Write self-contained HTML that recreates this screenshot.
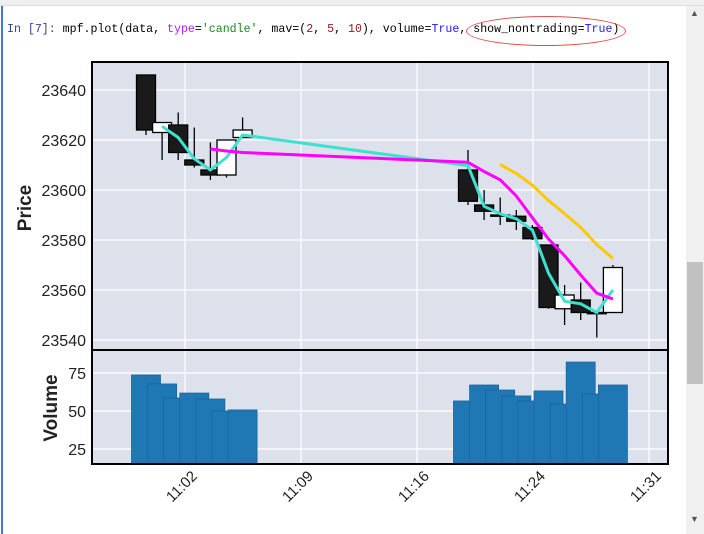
<!DOCTYPE html>
<html><head><meta charset="utf-8"><style>
body{margin:0;width:704px;height:534px;background:#fff;overflow:hidden;font-family:"Liberation Sans",sans-serif;position:relative}
</style></head><body>
<div style="position:absolute;left:0;top:0;width:704px;height:5px;background:#f0f0f0;border-bottom:1px solid #ddd"></div>
<div style="position:absolute;left:1px;top:6px;width:2px;height:528px;background:#3a7bd5"></div>
<div style="position:absolute;left:7px;top:23px;font-family:'Liberation Mono',monospace;font-size:11.6px;white-space:pre;color:#000"><span style="color:#303f9f">In [7]:</span> mpf.plot(data, <span style="color:#aa22ff">type</span>=<span style="color:#1a8a1a">'candle'</span>, mav=(<span style="color:#8b1a1a">2</span>, <span style="color:#8b1a1a">5</span>, <span style="color:#8b1a1a">10</span>), volume=<span style="color:#1a1aff">True</span>, show_nontrading=<span style="color:#1a1aff">True</span>)</div>
<div style="position:absolute;left:466px;top:16px;width:158px;height:28px;border:1px solid #e05050;border-radius:50%"></div>
<div style="position:absolute;left:686px;top:6px;width:18px;height:528px;background:#f0f0f0">
<div style="position:absolute;top:2px;left:4px;font-size:9px;color:#555">▲</div>
<div style="position:absolute;top:256px;left:1px;width:16px;height:122px;background:#c1c1c1"></div>
<div style="position:absolute;top:508px;left:4px;font-size:9px;color:#555">▼</div>
</div>
<svg id="c" width="704" height="534" style="position:absolute;left:0;top:0"></svg>
<script>
const mins=[0,1,2,3,4,5,6,20,21,22,23,24,25,26,27,28,29];
const opens=[23646,23623,23626,23612,23608,23606,23621,23608,23594,23590,23589.5,23585,23578,23552.5,23556,23550.5,23551];
const highs=[23646,23627,23631,23625,23619,23620,23629,23616,23600,23597,23592,23586,23578,23562,23563,23551,23570];
const lows=[23622,23612,23612,23609,23604,23605,23621,23594,23588,23586,23584,23580,23552.5,23546,23548,23541,23551];
const closes=[23624,23627,23615,23610,23606,23620,23624,23595.5,23591.5,23589.5,23587.5,23580.5,23553,23558,23551,23551,23569];
const volumes=[73.7,67.8,58.6,61.8,57.9,50,50.7,56.6,67.1,63.8,59.9,56.6,63.2,54.6,82.2,61.2,67.1];
const priceTicks=[23540,23560,23580,23600,23620,23640];
const volTicks=[25,50,75];
const xTickLabels=["11:02","11:09","11:16","11:24","11:31"];
const xTickPos=[185,301,417,533,649];
const mavs=[2,5,10];
const mavColors=["#40e0d0","#ff00ff","#ffc800"];

const NS="http://www.w3.org/2000/svg";
const svg=document.getElementById('c');
function mk(t,a,p){const e=document.createElementNS(NS,t);for(const k in a)e.setAttribute(k,a[k]);(p||svg).appendChild(e);return e;}
const L=92,R=668,T=62,MID=350,B=464;
const py=p=>90+(23640-p)*2.5;
const vy=v=>411-(v-50)*1.52;
const cx=m=>146+m*16.1;
const vx=m=>131.5+m*16.1;

let e=mk('rect',{x:L,y:T,width:R-L,height:B-T,fill:'#dce1ec'});

xTickPos.forEach((x,i)=>{let g=mk('line',{x1:x,x2:x,y1:T,y2:B,stroke:'#fff','stroke-width':1.2});

let t=mk('text',{x:0,y:0,'font-size':15,fill:'#222','text-anchor':'end',transform:`translate(${x+13},${B+13}) rotate(-45)`});t.textContent=xTickLabels[i];
});
priceTicks.forEach(p=>{let g=mk('line',{x1:L,x2:R,y1:py(p),y2:py(p),stroke:'#fff','stroke-width':1.2});

let t=mk('text',{x:86,y:py(p)+6,'font-size':16,fill:'#222','text-anchor':'end'});t.textContent=p;
});
volTicks.forEach(v=>{let g=mk('line',{x1:L,x2:R,y1:vy(v),y2:vy(v),stroke:'#fff','stroke-width':1.2});

let t=mk('text',{x:86,y:vy(v)+6,'font-size':16,fill:'#222','text-anchor':'end'});t.textContent=v;
});
mins.forEach((m,i)=>{let r=mk('rect',{x:vx(m),y:vy(volumes[i]),width:29,height:B-vy(volumes[i]),fill:'#1f77b4',stroke:'#1a64a0','stroke-width':0.8});
});
mins.forEach((m,i)=>{const x=cx(m),o=opens[i],c=closes[i];
let w=mk('line',{x1:x,x2:x,y1:py(highs[i]),y2:py(lows[i]),stroke:'#000','stroke-width':1.3});

const top=py(Math.max(o,c)),h=Math.max(1,Math.abs(py(o)-py(c)));
let b=mk('rect',{x:x-9.5,y:top,width:19,height:h,fill:c>=o?'#fdfdff':'#1a1a1a',stroke:'#000','stroke-width':1.3});
});
mavs.forEach((n,k)=>{let pts=[];for(let i=n-1;i<closes.length;i++){let s=0;for(let j=i-n+1;j<=i;j++)s+=closes[j];pts.push(cx(mins[i]).toFixed(1)+','+py(s/n).toFixed(1));}
let pl=mk('polyline',{points:pts.join(' '),fill:'none',stroke:mavColors[k],'stroke-width':3,'stroke-linejoin':'round'});
});
e=mk('rect',{x:L,y:T,width:R-L,height:MID-T,fill:'none',stroke:'#000','stroke-width':2});

e=mk('rect',{x:L,y:MID,width:R-L,height:B-MID,fill:'none',stroke:'#000','stroke-width':2});

let t=mk('text',{x:0,y:0,'font-size':19,'font-weight':'bold',fill:'#222','text-anchor':'middle',transform:'translate(31,208) rotate(-90)'});t.textContent='Price';

t=mk('text',{x:0,y:0,'font-size':19,'font-weight':'bold',fill:'#222','text-anchor':'middle',transform:'translate(57,408) rotate(-90)'});t.textContent='Volume';

</script>
</body></html>
